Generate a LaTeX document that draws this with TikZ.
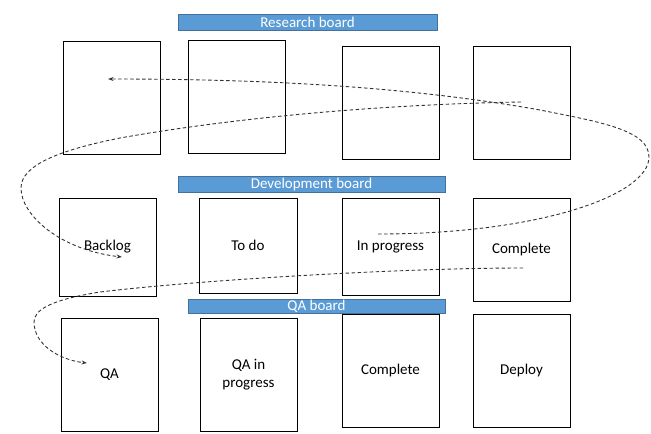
\documentclass[tikz,border=0pt]{standalone}
\usepackage{fontspec}
\setmainfont{Carlito}
\usetikzlibrary{arrows.meta}
\definecolor{barblue}{RGB}{91,155,213}
\definecolor{baredge}{RGB}{65,113,156}
\definecolor{flowgrey}{RGB}{50,50,50}

\begin{document}
\begin{tikzpicture}[x=1pt,y=-1pt]
    \tikzset{%
      card/.style={rectangle, draw, black, line width=0.9pt, inner sep=0pt,
        minimum width=97pt, minimum height=113pt, align=center,
        font=\fontsize{15}{18}\selectfont},
      bar/.style={rectangle, draw=baredge, fill=barblue, line width=0.8pt,
        inner sep=0pt, text=white, font=\fontsize{15}{16}\selectfont},
      flow/.style={flowgrey, line width=0.9pt, dash pattern=on 3.5pt off 2.5pt,
        -{Stealth[length=5.5pt,width=4pt]}},
    }
    \useasboundingbox (0,0) rectangle (651,434);

    % research board
    \node[bar, minimum width=259pt, minimum height=16pt] (RB) at (307.5,22) {Research board};
    \node[card] (R1) at (112,97.5) {};
    \node[card] (R2) at (236.5,96.5) {};
    \node[card] (R3) at (390.5,102.5) {};
    \node[card] (R4) at (521.5,102.5) {};

    % development board
    \node[bar, minimum width=267pt, minimum height=16pt] (DB) at (311.5,184) {Development board};
    \node[card, minimum height=98pt] (D1) at (107.5,247) {Backlog};
    \node[card, minimum width=98pt, minimum height=95pt] (D2) at (248,245.5) {To do};
    \node[card, minimum height=97pt] (D3) at (390.5,246.5) {In progress};
    \node[card, minimum height=103pt] (D4) at (521.5,249.5) {Complete};

    % qa board
    \node[bar, minimum width=257pt, minimum height=14pt] (QB) at (316.5,306) {QA board};
    \node[card] (Q1) at (109.5,374.5) {QA};
    \node[card] (Q2) at (248.5,374.5) {QA in\\progress};
    \node[card] (Q3) at (390.5,370.5) {Complete};
    \node[card] (Q4) at (521.5,370.5) {Deploy};

    % ends of the dashed flows
    \coordinate (inprog) at (378,234);
    \coordinate (resin) at (108,79);
    \coordinate (resout) at (521,102);
    \coordinate (backin) at (122,257);
    \coordinate (devout) at (523,268);
    \coordinate (qain) at (87,363);

    \draw[flow] (inprog) .. controls (540,234) and (649,195) .. (649,157)
      .. controls (649,130) and (600,122) .. (540,110)
      .. controls (400,85) and (250,79) .. (resin);
    \draw[flow] (resout) .. controls (400,104) and (250,115) .. (120,138)
      .. controls (60,150) and (21,165) .. (21,188)
      .. controls (21,215) and (60,250) .. (backin);
    \draw[flow] (devout) .. controls (400,268) and (200,280) .. (100,292)
      .. controls (50,300) and (34,310) .. (34,322)
      .. controls (34,345) and (60,360) .. (qain);
\end{tikzpicture}
\end{document}
